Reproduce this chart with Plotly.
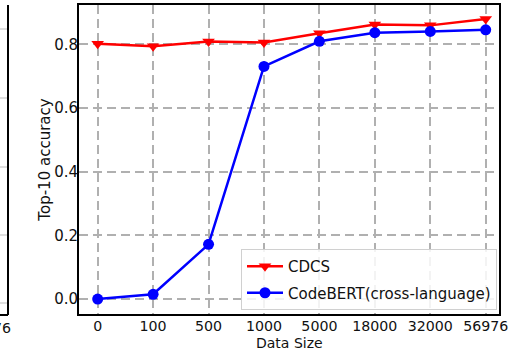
import plotly.graph_objects as go

categories = ["0", "100", "500", "1000", "5000", "18000", "32000", "56976"]
cdcs = [0.802, 0.794, 0.809, 0.806, 0.835, 0.863, 0.860, 0.880]
codebert = [0.0, 0.015, 0.172, 0.731, 0.810, 0.837, 0.841, 0.846]
y_ticks = [0.0, 0.2, 0.4, 0.6, 0.8]

W, H = 509, 350
L, R, T, B = 79, 10, 5, 36
pw = W - L - R
ph = H - T - B

def px_x(p):
    return (p - L) / pw

def px_y(p):
    return (H - B - p) / ph

FONT = "DejaVu Sans"
grid_col = "#b0b0b0"
txt_col = "#111111"

fig = go.Figure()
fig.add_trace(go.Scatter(
    x=list(range(len(categories))), y=cdcs, name="CDCS", mode="lines+markers",
    line=dict(color="#ff0000", width=2.5),
    marker=dict(symbol="triangle-down", size=11, color="#ff0000"),
    legendgroup="a"))
fig.add_trace(go.Scatter(
    x=list(range(len(categories))), y=codebert, name="CodeBERT(cross-language)", mode="lines+markers",
    line=dict(color="#0000ff", width=2.5),
    marker=dict(symbol="circle", size=11, color="#0000ff"),
    legendgroup="b"))

fig.update_layout(
    width=W, height=H,
    margin=dict(l=L, r=R, t=T, b=B, pad=0, autoexpand=False),
    plot_bgcolor="white", paper_bgcolor="white",
    font=dict(family=FONT, size=15, color=txt_col),
    legend=dict(
        x=px_x(497), y=px_y(310), xanchor="right", yanchor="bottom",
        bgcolor="rgba(255,255,255,0.85)", bordercolor="#d0d0d0", borderwidth=1,
        font=dict(family=FONT, size=15), traceorder="grouped", tracegroupgap=4,
        itemwidth=36,
    ),
    xaxis=dict(
        range=[-0.337, 7.24], tickmode="array",
        tickvals=list(range(len(categories))), ticktext=categories,
        showgrid=True, gridcolor=grid_col, griddash="9px,5px", gridwidth=1.5,
        showline=True, linecolor="black", linewidth=2, mirror=True,
        ticks="", zeroline=False, tickfont=dict(size=14.2), automargin=False,
        ticklabelstandoff=-2,
    ),
    yaxis=dict(
        range=[-0.047, 0.924], tickmode="array",
        tickvals=y_ticks, ticktext=[f"{v:.1f}" for v in y_ticks],
        showgrid=True, gridcolor=grid_col, griddash="9px,5px", gridwidth=1.5,
        showline=True, linecolor="black", linewidth=2, mirror=True,
        ticks="", zeroline=False, tickfont=dict(size=15), ticklabelstandoff=-4,
        automargin=False,
        title=dict(text="Top-10 accuracy", font=dict(size=15), standoff=0),
    ),
)

fig.add_annotation(text="Data Size", xref="paper", yref="paper", x=0.5, y=px_y(342.5),
                   xanchor="center", yanchor="middle", showarrow=False,
                   font=dict(family=FONT, size=14, color=txt_col))

# Edge of neighbouring panel on the left (cropped in the reference)
shapes = [
    dict(type="line", xref="paper", yref="paper", x0=px_x(8), x1=px_x(8),
         y0=px_y(315), y1=px_y(5), line=dict(color="black", width=2)),
    dict(type="line", xref="paper", yref="paper", x0=px_x(-2), x1=px_x(8),
         y0=px_y(315), y1=px_y(315), line=dict(color="black", width=2)),
]
for gy in [29, 98, 167, 235, 303]:
    shapes.append(dict(type="line", xref="paper", yref="paper", x0=px_x(0), x1=px_x(7),
                       y0=px_y(gy), y1=px_y(gy), line=dict(color="#c8c8c8", width=1.2)))
fig.update_layout(shapes=shapes)
fig.add_annotation(text="56976", xref="paper", yref="paper", x=px_x(13), y=px_y(328),
                   xanchor="right", yanchor="middle", showarrow=False,
                   font=dict(family=FONT, size=14.2, color=txt_col))

fig.write_html("out.html")
